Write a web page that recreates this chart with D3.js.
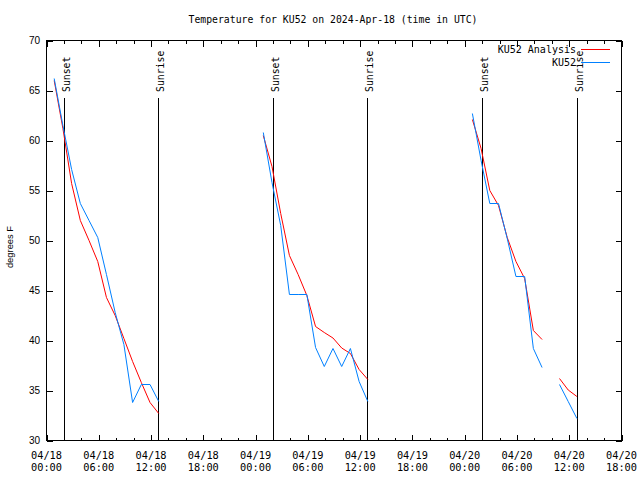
<!DOCTYPE html>
<html>
<head>
<meta charset="utf-8">
<script src="https://cdn.jsdelivr.net/npm/d3@7"></script>
<style>
  html, body { margin: 0; padding: 0; background: #fff; }
  svg { display: block; }
  .mono { font-family: "DejaVu Sans Mono", monospace; }
  .sans { font-family: "Liberation Sans", Arial, sans-serif; }
</style>
</head>
<body>
<svg id="chart" width="640" height="480"></svg>
<script>
const titleText = "Temperature for KU52 on 2024-Apr-18 (time in UTC)";
const yLabel = "degrees F";
const seriesNames = ["KU52 Analysis", "KU52"];
const seriesColors = ["#ff0000", "#0080ff"];

const day1Times = ["2024-04-18T00:53Z","2024-04-18T01:53Z","2024-04-18T02:53Z","2024-04-18T03:53Z","2024-04-18T04:53Z","2024-04-18T05:53Z","2024-04-18T06:53Z","2024-04-18T07:53Z","2024-04-18T08:53Z","2024-04-18T09:53Z","2024-04-18T10:53Z","2024-04-18T11:53Z","2024-04-18T12:53Z"];
const day2Times = ["2024-04-19T00:53Z","2024-04-19T01:53Z","2024-04-19T02:53Z","2024-04-19T03:53Z","2024-04-19T04:53Z","2024-04-19T05:53Z","2024-04-19T06:53Z","2024-04-19T07:53Z","2024-04-19T08:53Z","2024-04-19T09:53Z","2024-04-19T10:53Z","2024-04-19T11:53Z","2024-04-19T12:53Z"];
const day3Times = ["2024-04-20T00:53Z","2024-04-20T01:53Z","2024-04-20T02:53Z","2024-04-20T03:53Z","2024-04-20T04:53Z","2024-04-20T05:53Z","2024-04-20T06:53Z","2024-04-20T07:53Z","2024-04-20T08:53Z","2024-04-20T09:53Z","2024-04-20T10:53Z","2024-04-20T11:53Z","2024-04-20T12:53Z"];

const analysisDay1 = [66.0, 61.2, 55.7, 52.0, 50.0, 47.9, 44.3, 42.5, 40.2, 37.9, 35.8, 33.8, 32.7];
const ku52Day1     = [66.2, 61.5, 57.1, 53.7, 52.0, 50.3, 46.6, 42.8, 39.6, 33.8, 35.6, 35.6, 33.9];
const analysisDay2 = [60.5, 57.4, 52.7, 48.5, 46.6, 44.5, 41.4, 40.8, 40.25, 39.25, 38.7, 37.1, 36.1];
const ku52Day2     = [60.8, 55.8, 51.5, 44.6, 44.6, 44.6, 39.3, 37.4, 39.2, 37.4, 39.2, 35.9, 33.9];
const analysisDay3 = [62.1, 59.2, 55.0, 53.5, 50.3, 47.9, 46.2, 41.0, 40.1, null, 36.2, 35.05, 34.4];
const ku52Day3     = [62.7, 58.0, 53.7, 53.7, 50.2, 46.4, 46.4, 39.2, 37.3, null, 35.6, 33.9, 32.2];

const sunsetTimes  = ["2024-04-18T02:00Z", "2024-04-19T02:01Z", "2024-04-20T02:02Z"];
const sunriseTimes = ["2024-04-18T12:48Z", "2024-04-19T12:49Z", "2024-04-20T12:51Z"];

const xDomain = ["2024-04-18T00:00Z", "2024-04-20T18:00Z"];
const yDomain = [30, 70];
const yTicks = [30, 35, 40, 45, 50, 55, 60, 65, 70];

const svg = d3.select("#chart");
const L = 46.5, R = 621.5, T = 40.5, B = 440.5;

const x = d3.scaleUtc().domain(xDomain.map(d => new Date(d))).range([L, R]);
const y = d3.scaleLinear().domain(yDomain).range([B, T]);

const majorTicks = x.ticks(d3.utcHour.every(6));
const minorTicks = x.ticks(d3.utcHour.every(2)).filter(t => t.getUTCHours() % 6 !== 0);

// title
svg.append("text").attr("class", "mono").attr("x", 333).attr("y", 23)
  .attr("text-anchor", "middle").attr("font-size", "9.8px").text(titleText);

// axes group with crisp edges
const ax = svg.append("g").attr("shape-rendering", "crispEdges").attr("stroke", "#000").attr("stroke-width", 1);

// y ticks left and right
ax.selectAll(".yt").data(yTicks).join("line")
  .attr("x1", L).attr("x2", L + 6).attr("y1", d => Math.round(y(d)) + 0.5).attr("y2", d => Math.round(y(d)) + 0.5);
ax.selectAll(".ytr").data(yTicks).join("line")
  .attr("x1", R - 6).attr("x2", R).attr("y1", d => Math.round(y(d)) + 0.5).attr("y2", d => Math.round(y(d)) + 0.5);

// x ticks bottom/top
const xt = d => Math.round(x(d)) + 0.5;
ax.append("g").selectAll("line").data(majorTicks).join("line")
  .attr("x1", xt).attr("x2", xt).attr("y1", B).attr("y2", B - 6);
ax.append("g").selectAll("line").data(majorTicks).join("line")
  .attr("x1", xt).attr("x2", xt).attr("y1", T).attr("y2", T + 6);
ax.append("g").selectAll("line").data(minorTicks).join("line")
  .attr("x1", xt).attr("x2", xt).attr("y1", B).attr("y2", B - 3);
ax.append("g").selectAll("line").data(minorTicks).join("line")
  .attr("x1", xt).attr("x2", xt).attr("y1", T).attr("y2", T + 3);

// sunset / sunrise vertical lines
const eventLines = [
  ...sunsetTimes.map(t => ({ t: new Date(t), label: "Sunset" })),
  ...sunriseTimes.map(t => ({ t: new Date(t), label: "Sunrise" }))
];
ax.append("g").selectAll("line").data(eventLines).join("line")
  .attr("x1", d => xt(d.t)).attr("x2", d => xt(d.t)).attr("y1", 98).attr("y2", B);

svg.append("g").selectAll("text").data(eventLines).join("text")
  .attr("class", "mono").attr("font-size", "9.8px")
  .attr("transform", d => `translate(${xt(d.t) + 5.5},92) rotate(-90)`)
  .attr("text-anchor", "start").text(d => d.label);

// border
ax.append("rect").attr("x", L).attr("y", T).attr("width", R - L).attr("height", B - T).attr("fill", "none");

// y tick labels
svg.append("g").selectAll("text").data(yTicks).join("text")
  .attr("class", "sans").attr("font-size", "10px")
  .attr("x", 40).attr("y", d => y(d) + 3.7).attr("text-anchor", "end").text(d => d);

// x tick labels
const fmtDate = d3.utcFormat("%m/%d"), fmtTime = d3.utcFormat("%H:%M");
const xl = svg.append("g").selectAll("g").data(majorTicks).join("g");
xl.append("text").attr("class", "mono").attr("font-size", "10.3px").attr("text-anchor", "middle")
  .attr("x", d => x(d)).attr("y", 458.5).text(d => fmtDate(d));
xl.append("text").attr("class", "mono").attr("font-size", "10.3px").attr("text-anchor", "middle")
  .attr("x", d => x(d)).attr("y", 471).text(d => fmtTime(d));

// y label
svg.append("text").attr("class", "sans").attr("font-size", "9.4px")
  .attr("transform", "translate(13,247) rotate(-90)").attr("text-anchor", "middle").text(yLabel);

// data
const days = [
  { times: day1Times, a: analysisDay1, k: ku52Day1 },
  { times: day2Times, a: analysisDay2, k: ku52Day2 },
  { times: day3Times, a: analysisDay3, k: ku52Day3 }
];
const line = d3.line().defined(d => d.v != null).x(d => x(d.t)).y(d => y(d.v));
days.forEach(day => {
  const tt = day.times.map(s => new Date(s));
  [day.a, day.k].forEach((vals, i) => {
    svg.append("path")
      .datum(tt.map((t, j) => ({ t, v: vals[j] })))
      .attr("fill", "none").attr("stroke", seriesColors[i]).attr("stroke-width", 1)
      .attr("d", line);
  });
});

// legend
const legY = [49.5, 62.5];
seriesNames.forEach((name, i) => {
  svg.append("text").attr("class", "mono").attr("font-size", "10px")
    .attr("x", 576).attr("y", legY[i] + 3.5).attr("text-anchor", "end").text(name);
  svg.append("line").attr("x1", 581).attr("x2", 610).attr("y1", legY[i]).attr("y2", legY[i])
    .attr("stroke", seriesColors[i]).attr("stroke-width", 1).attr("shape-rendering", "crispEdges");
});
</script>
</body>
</html>
